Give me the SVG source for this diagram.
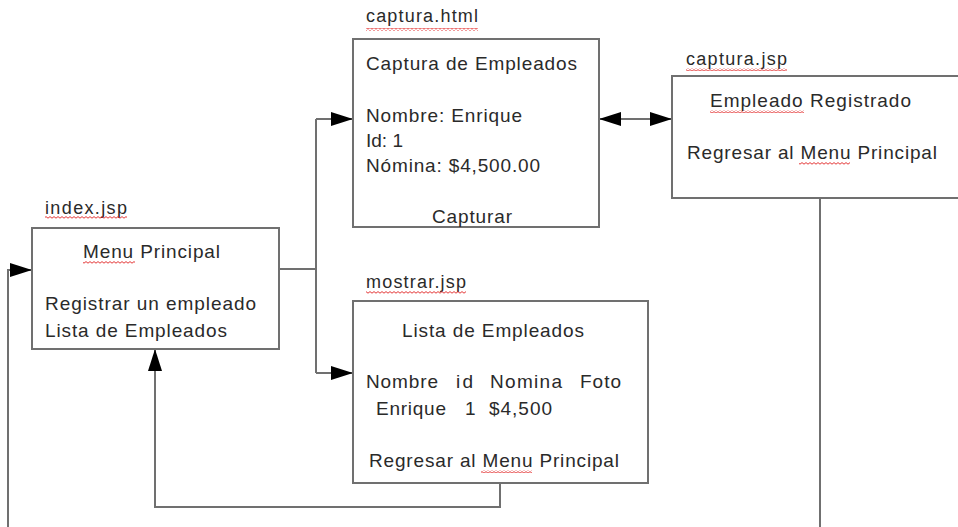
<svg xmlns="http://www.w3.org/2000/svg" width="958" height="527" viewBox="0 0 958 527">
<style>
.box{fill:#fff;stroke:#707070;stroke-width:2}
.ln{fill:none;stroke:#707070;stroke-width:2}
.t{font-family:"Liberation Sans",Arial,sans-serif;font-size:19px;fill:#2a2a2a}
.lbl{font-family:"Liberation Sans",Arial,sans-serif;font-size:18px;fill:#2a2a2a}
.sq{fill:url(#wave)}
</style>
<defs>
<pattern id="wave" width="4" height="3" patternUnits="userSpaceOnUse">
<path d="M0 2.2 L2 0.6 L4 2.2" fill="none" stroke="#e02020" stroke-width="0.9"/>
</pattern>
<marker id="ah" viewBox="0 0 22 14" refX="22" refY="7" markerWidth="22" markerHeight="14" markerUnits="userSpaceOnUse" orient="auto-start-reverse">
<path d="M0 0 L22 7 L0 14 Z" fill="#000"/>
</marker>
</defs>
<rect width="958" height="527" fill="#fff"/>
<g id="connectors">
<path class="ln" d="M279 269 H316"/>
<path class="ln" d="M316 119 V373"/>
<path class="ln" d="M316 119 H353" marker-end="url(#ah)"/>
<path class="ln" d="M316 373 H353" marker-end="url(#ah)"/>
<path class="ln" d="M599 119 H672" marker-start="url(#ah)" marker-end="url(#ah)"/>
<path class="ln" d="M500 483 V507 H155 V349" marker-end="url(#ah)"/>
<path class="ln" d="M820 198 V527"/>
<path class="ln" d="M8 527 V270 H32" marker-end="url(#ah)"/>
</g>
<g id="index">
<rect class="box" x="32" y="228" width="247" height="121"/>
<text class="lbl" x="45" y="214" textLength="82" lengthAdjust="spacing">index.jsp</text>
<rect class="sq" x="45" y="216" width="82" height="3"/>
<text class="t" x="83" y="258" textLength="137" lengthAdjust="spacing">Menu Principal</text>
<rect class="sq" x="83" y="261" width="52" height="3"/>
<text class="t" x="45" y="310" textLength="211" lengthAdjust="spacing">Registrar un empleado</text>
<text class="t" x="45" y="337" textLength="182" lengthAdjust="spacing">Lista de Empleados</text>
</g>
<g id="captura_html">
<rect class="box" x="353" y="39" width="246" height="188"/>
<text class="lbl" x="366" y="22" textLength="112" lengthAdjust="spacing">captura.html</text>
<rect class="sq" x="366" y="28" width="112" height="3"/>
<text class="t" x="366" y="70" textLength="211" lengthAdjust="spacing">Captura de Empleados</text>
<text class="t" x="366" y="122" textLength="156" lengthAdjust="spacing">Nombre: Enrique</text>
<text class="t" x="366" y="147" textLength="37" lengthAdjust="spacing">Id: 1</text>
<text class="t" x="366" y="172" textLength="174" lengthAdjust="spacing">Nómina: $4,500.00</text>
<text class="t" x="432" y="223" textLength="80" lengthAdjust="spacing">Capturar</text>
</g>
<g id="captura_jsp">
<rect class="box" x="672" y="76" width="300" height="122"/>
<text class="lbl" x="686" y="65" textLength="101" lengthAdjust="spacing">captura.jsp</text>
<rect class="sq" x="686" y="68" width="101" height="3"/>
<text class="t" x="710" y="107" textLength="201" lengthAdjust="spacing">Empleado Registrado</text>
<rect class="sq" x="710" y="110" width="94" height="3"/>
<text class="t" x="687" y="159" textLength="250" lengthAdjust="spacing">Regresar al Menu Principal</text>
<rect class="sq" x="799" y="162" width="51" height="3"/>
</g>
<g id="mostrar">
<rect class="box" x="353" y="301" width="295" height="182"/>
<text class="lbl" x="366" y="288" textLength="100" lengthAdjust="spacing">mostrar.jsp</text>
<rect class="sq" x="366" y="291" width="100" height="3"/>
<text class="t" x="402" y="337" textLength="182" lengthAdjust="spacing">Lista de Empleados</text>
<text class="t" x="366" y="388" textLength="72" lengthAdjust="spacing">Nombre</text>
<text class="t" x="456" y="388" textLength="17" lengthAdjust="spacing">id</text>
<text class="t" x="490" y="388" textLength="72" lengthAdjust="spacing">Nomina</text>
<text class="t" x="580" y="388" textLength="41" lengthAdjust="spacing">Foto</text>
<text class="t" x="376" y="415" textLength="70" lengthAdjust="spacing">Enrique</text>
<text class="t" x="465" y="415">1</text>
<text class="t" x="489" y="415" textLength="63" lengthAdjust="spacing">$4,500</text>
<text class="t" x="369" y="467" textLength="250" lengthAdjust="spacing">Regresar al Menu Principal</text>
<rect class="sq" x="481" y="470" width="51" height="3"/>
</g>
</svg>
